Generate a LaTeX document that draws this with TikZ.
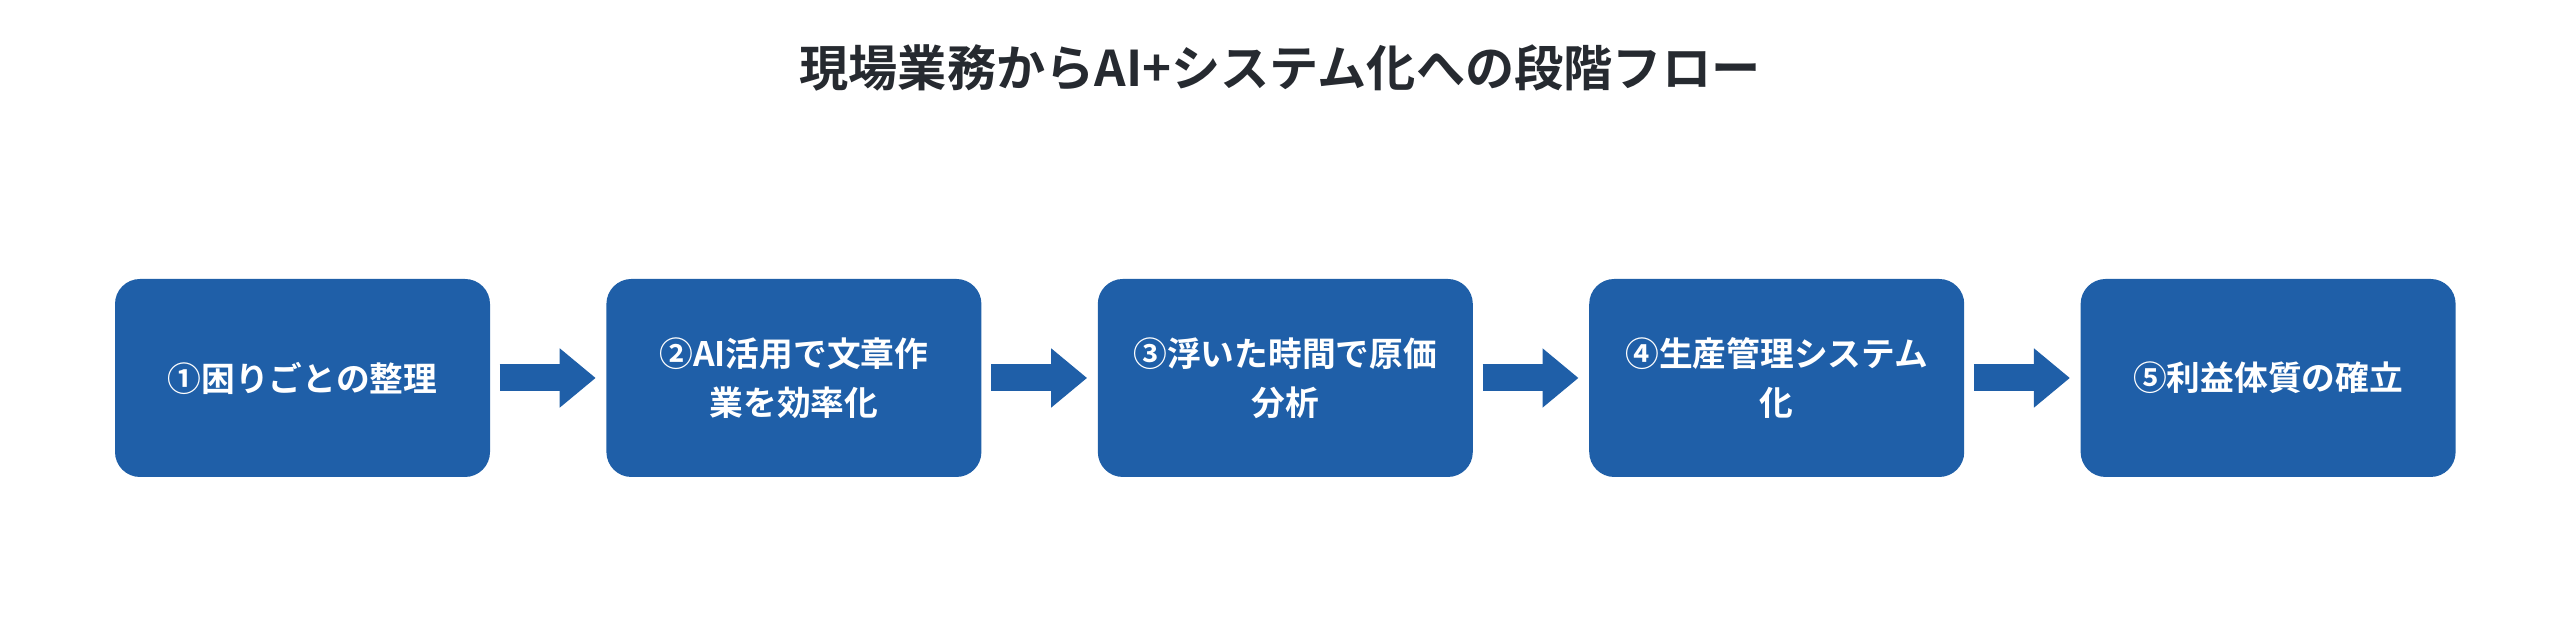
\documentclass[tikz,border=0pt]{standalone}
\usepackage{fontspec}
\setmainfont{Noto Sans CJK JP}[BoldFont={Noto Sans CJK JP Bold}]
\usetikzlibrary{arrows.meta,positioning}
\definecolor{stageblue}{HTML}{1F5FA8}
\definecolor{titlegray}{HTML}{262A30}

\begin{document}
\begin{tikzpicture}[node distance=1.15cm,
  stage/.style={rectangle,rounded corners=0.25cm,fill=stageblue,text=white,
    minimum width=3.75cm,minimum height=1.98cm,align=center,
    font=\fontsize{9.6pt}{14pt}\selectfont\bfseries},
  flow/.style={draw=stageblue,line width=0.27cm,
    -{Triangle[width=0.57cm,length=0.36cm]}}]
  \useasboundingbox (0,0) rectangle (25.6,6.22);

  \node[font=\fontsize{14pt}{16pt}\selectfont\bfseries,text=titlegray] (title) at (12.8,5.54) {現場業務からAI+システム化への段階フロー};

  \node[stage] (s1) at (3.025,2.44) {①困りごとの整理};
  \node[stage] (s2) [right=of s1] {②AI活用で文章作\\業を効率化};
  \node[stage] (s3) [right=of s2] {③浮いた時間で原価\\分析};
  \node[stage] (s4) [right=of s3] {④生産管理システム\\化};
  \node[stage] (s5) [right=of s4] {⑤利益体質の確立};

  \draw[flow] ([xshift=0.09cm]s1.east) -- ([xshift=-0.1cm]s2.west);
  \draw[flow] ([xshift=0.09cm]s2.east) -- ([xshift=-0.1cm]s3.west);
  \draw[flow] ([xshift=0.09cm]s3.east) -- ([xshift=-0.1cm]s4.west);
  \draw[flow] ([xshift=0.09cm]s4.east) -- ([xshift=-0.1cm]s5.west);
\end{tikzpicture}
\end{document}
